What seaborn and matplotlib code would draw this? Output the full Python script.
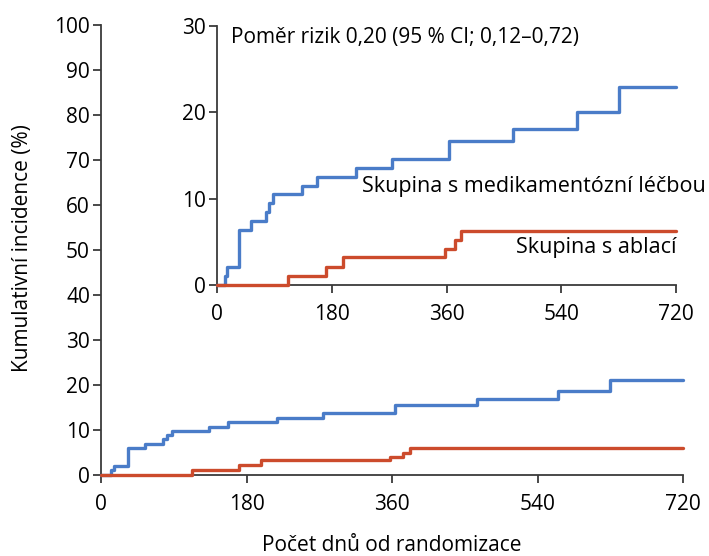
import numpy as np
import pandas as pd
import matplotlib
matplotlib.use("Agg")
import matplotlib.pyplot as plt
import seaborn as sns

# step times (days) and cumulative incidence (%) - main panel
blue_days = [0, 12, 16, 34, 54, 77, 82, 88, 134, 157, 218, 275, 364, 465, 565, 630, 720]
blue_main = [0, 1.1, 2.0, 5.9, 6.9, 8.1, 9.0, 9.8, 10.7, 11.7, 12.6, 13.7, 15.6, 16.8, 18.7, 21.1, 21.1]
red_days = [0, 112, 171, 198, 358, 374, 382, 720]
red_main = [0, 1.2, 2.2, 3.3, 3.9, 5.0, 5.9, 5.9]

# inset panel (zoomed 0-30 %)
blue_inset = [0, 1.0, 2.1, 6.4, 7.4, 8.5, 9.5, 10.5, 11.5, 12.5, 13.6, 14.6, 16.7, 18.1, 20.0, 22.9, 22.9]
red_inset = [0, 1.0, 2.1, 3.2, 4.2, 5.2, 6.3, 6.3]

x_ticks = [0, 180, 360, 540, 720]
main_yticks = list(range(0, 101, 10))
inset_yticks = [0, 10, 20, 30]

blue = "#4a7cc8"
red = "#cc4b2c"

sns.set_style("white")
plt.rcParams["font.family"] = ["Open Sans", "DejaVu Sans"]
plt.rcParams["font.size"] = 15
plt.rcParams["text.color"] = "black"
plt.rcParams["xtick.color"] = "black"
plt.rcParams["ytick.color"] = "black"
plt.rcParams["axes.labelcolor"] = "black"

df_blue = pd.DataFrame({"day": blue_days, "main": blue_main, "inset": blue_inset})
df_red = pd.DataFrame({"day": red_days, "main": red_main, "inset": red_inset})

fig = plt.figure(figsize=(7.09, 5.56), dpi=100)
W, H = 709, 556
ax = fig.add_axes([101 / W, 1 - 475 / H, (683 - 101) / W, (475 - 25) / H])
ins = fig.add_axes([217 / W, 1 - 285 / H, (676 - 217) / W, (285 - 26) / H])


def style(a, yticks):
    a.set_xlim(0, 720)
    a.set_ylim(yticks[0], yticks[-1])
    a.set_xticks(x_ticks)
    a.set_yticks(yticks)
    for s in ["top", "right"]:
        a.spines[s].set_visible(False)
    for s in ["left", "bottom"]:
        a.spines[s].set_color("#3a3a3a")
        a.spines[s].set_linewidth(1.3)
    a.tick_params(direction="out", length=6, width=1.3, color="#3a3a3a",
                  labelsize=15, left=True, bottom=True, pad=2)
    a.tick_params(axis="x", pad=8)
    a.set_xlabel("")
    a.set_ylabel("")
    a.patch.set_alpha(0)


for a, col in [(ax, "main"), (ins, "inset")]:
    sns.lineplot(data=df_blue, x="day", y=col, ax=a, color=blue, lw=2.4,
                 drawstyle="steps-post", zorder=3, clip_on=False)
    sns.lineplot(data=df_red, x="day", y=col, ax=a, color=red, lw=2.4,
                 drawstyle="steps-post", zorder=4, clip_on=False)

style(ax, main_yticks)
style(ins, inset_yticks)

ax.set_xlabel("Počet dnů od randomizace", fontsize=15, labelpad=14)
ax.set_ylabel("Kumulativní incidence (%)", fontsize=15)
ax.yaxis.set_label_coords(-0.117, 0.505)

ins.text(22, 28.7, "Poměr rizik 0,20 (95 % CI; 0,12–0,72)", fontsize=15, va="center", ha="left")
ins.text(227, 11.4, "Skupina s medikamentózní léčbou", fontsize=15.5, va="center", ha="left", clip_on=False)
ins.text(720, 4.3, "Skupina s ablací", fontsize=15.5, va="center", ha="right")

fig.savefig("out.png", dpi=100)
